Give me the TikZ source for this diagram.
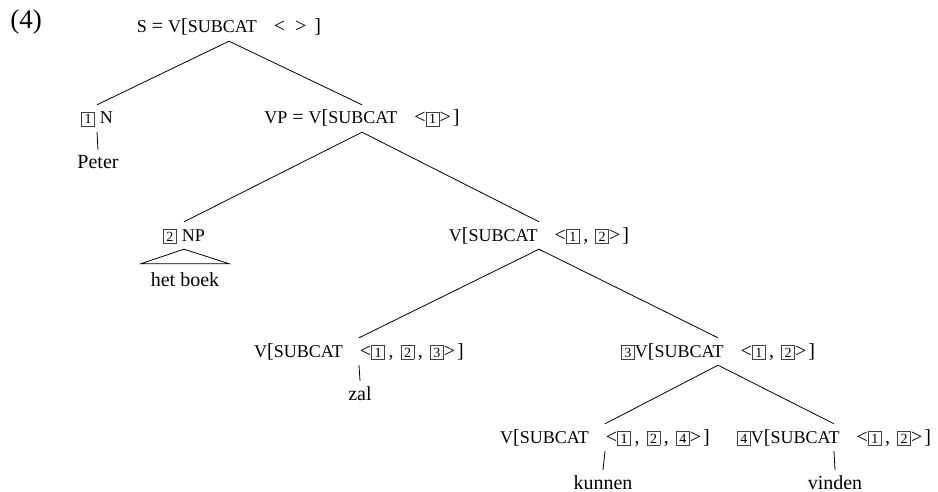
\documentclass[tikz,border=0pt]{standalone}
\usepackage{fontspec}
\setmainfont{Liberation Serif}
\newcommand{\sml}[1]{{\fontsize{18}{18}\selectfont #1}}
\newcommand{\bx}[1]{{\setlength{\fboxsep}{0pt}\setlength{\fboxrule}{0.7pt}\color{black!75}\fbox{\color{black}\makebox[12.5pt]{\rule[-1.8pt]{0pt}{13.5pt}\fontsize{14}{14}\selectfont #1}}}}
\newcommand{\subcat}{\sml{V}[\sml{SUBCAT}\hspace{17pt}}
\newcommand{\sep}{\hspace{3.5pt},\hspace{7pt}}
\tikzset{
	cat/.style={inner sep=0pt, anchor=base, text height=19pt, text depth=8pt},
	leaf/.style={inner sep=0pt, anchor=base, text height=19pt, text depth=4pt},
	edge/.style={line width=0.8pt}
}

\begin{document}
\begin{tikzpicture}[x=1pt, y=-1pt, font=\fontsize{20}{24}\selectfont]
		\useasboundingbox (0,0) rectangle (938,492);
		\node (ex) at (26,22) {\fontsize{27}{30}\selectfont (4)};
		\node [cat] (s) at (229,33) {\sml{S} = \subcat<\hspace{10pt}>\hspace{8pt}]};
		\node [cat] (n1) at (97,124) {\bx{1} \sml{N}};
		\node [cat] (vp) at (362,124) {\sml{VP} = \subcat<\bx{1}>\hspace{2pt}]};
		\node [leaf] (peter) at (98,169) {Peter};
		\node [cat] (np) at (184,241) {\bx{2} \sml{NP}};
		\node [cat] (v12) at (539,241) {\subcat<\bx{1}\sep\bx{2}>\hspace{2pt}]};
		\node [leaf, text height=22pt, inner xsep=10pt] (hetboek) at (185,286) {het boek};
		\node [cat] (v123) at (359,357) {\subcat<\bx{1}\sep\bx{2}\sep\bx{3}>\hspace{2pt}]};
		\node [cat] (v3) at (718,357) {\bx{3}\subcat<\bx{1}\sep\bx{2}>\hspace{2pt}]};
		\node [leaf] (zal) at (360,400) {zal};
		\node [cat] (v124) at (605,443) {\subcat<\bx{1}\sep\bx{2}\sep\bx{4}>\hspace{2pt}]};
		\node [cat] (v4) at (834,443) {\bx{4}\subcat<\bx{1}\sep\bx{2}>\hspace{2pt}]};
		\node [leaf] (kunnen) at (603,489) {kunnen};
		\node [leaf] (vinden) at (835,489) {vinden};
		\draw [edge] (s.south) -- (n1.north);
		\draw [edge] (s.south) -- (vp.north);
		\draw [edge] (n1.south) -- (peter.north);
		\draw [edge] (vp.south) -- (np.north);
		\draw [edge] (vp.south) -- (v12.north);
		\draw [edge] (np.south) -- (hetboek.north west) -- (hetboek.north east) -- cycle;
		\draw [edge] (v12.south) -- (v123.north);
		\draw [edge] (v12.south) -- (v3.north);
		\draw [edge] (v123.south) -- (zal.north);
		\draw [edge] (v3.south) -- (v124.north);
		\draw [edge] (v3.south) -- (v4.north);
		\draw [edge] (v124.south) -- (kunnen.north);
		\draw [edge] (v4.south) -- (vinden.north);
	\end{tikzpicture}
\end{document}
